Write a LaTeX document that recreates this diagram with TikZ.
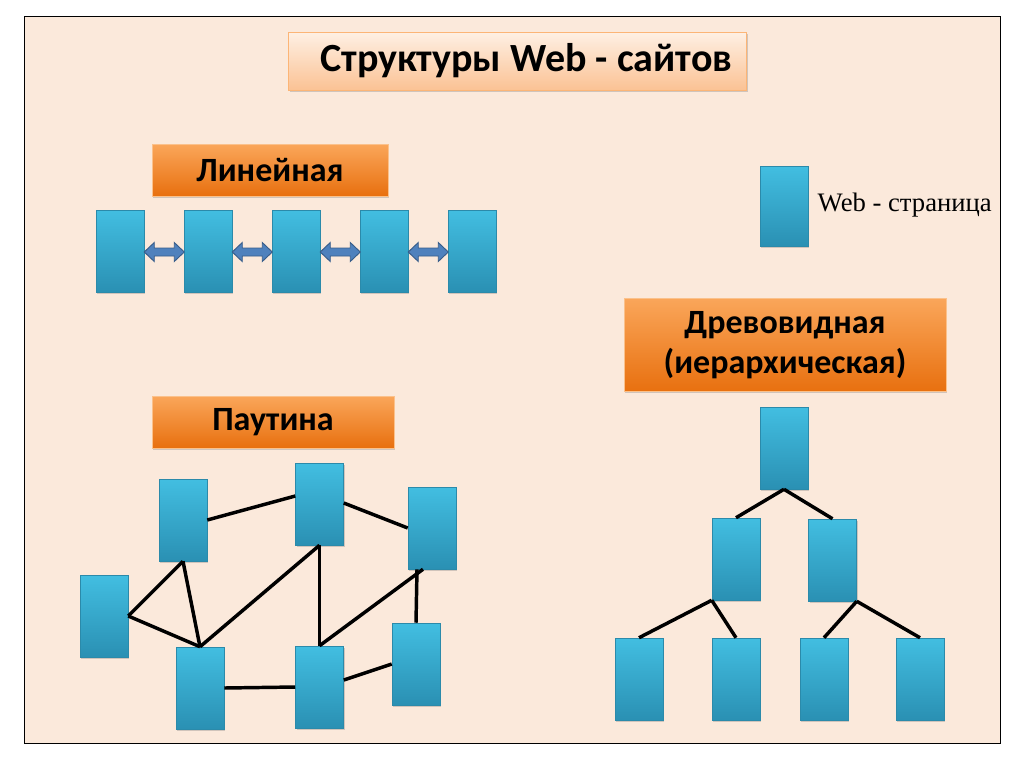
\documentclass[tikz,border=0pt]{standalone}
\usepackage{fontspec}
\setmainfont{Liberation Serif}
\newfontfamily\headfont{Carlito}
\usetikzlibrary{shadows,calc}
\definecolor{pagebg}{HTML}{FBE9DB}
\definecolor{boxtop}{HTML}{42BEE1}
\definecolor{boxbot}{HTML}{2A90B3}
\definecolor{boxline}{HTML}{2B8AAA}
\definecolor{orgtop}{HTML}{FAA65A}
\definecolor{orgbot}{HTML}{E8700F}
\definecolor{ttltop}{HTML}{FEF0E4}
\definecolor{ttlbot}{HTML}{FBC294}
\definecolor{arrfill}{HTML}{4F81BD}
\definecolor{arrline}{HTML}{385D8A}
\tikzset{
  page/.style={rectangle, draw=black, line width=0.9pt, inner sep=0pt},
  pagebox/.style={rectangle, draw=boxline, line width=0.4pt, top color=boxtop, bottom color=boxbot,
    minimum width=36pt, minimum height=61.5pt, inner sep=0pt,
    drop shadow={shadow xshift=1pt, shadow yshift=-1.2pt, opacity=0.35}},
  labelbox/.style={rectangle, draw=orgtop!70!white, line width=0.4pt, top color=orgtop, bottom color=orgbot,
    inner sep=0pt, font=\headfont\bfseries\fontsize{25.5}{30}\selectfont, text=black, align=center,
    drop shadow={shadow xshift=1pt, shadow yshift=-1.2pt, opacity=0.35}},
  titlebox/.style={rectangle, draw=ttlbot!80!orange, line width=0.4pt, top color=ttltop, bottom color=ttlbot,
    inner sep=0pt, font=\headfont\bfseries\fontsize{30}{36}\selectfont, text=black,
    drop shadow={shadow xshift=1.2pt, shadow yshift=-1.5pt, opacity=0.35}},
  link/.style={line width=2.6pt, black},
  dblarrow/.style={draw=arrline, fill=arrfill, line width=0.7pt, line join=miter}
}
\begin{document}
\begin{tikzpicture}[x=0.75pt,y=-0.75pt]
\useasboundingbox (0,0) rectangle (1024,768);
\fill[white] (0,0) rectangle (1024,768);
\node[page, fill=pagebg, minimum width=732pt, minimum height=545.25pt, anchor=north west] (frame) at (24,16) {};

% title
\node[titlebox, minimum width=343.5pt, minimum height=43.5pt] (title) at (517,61) {\hspace{14pt}Структуры Web - сайтов};

% linear
\node[labelbox, minimum width=177pt, minimum height=39pt] (lin) at (270,170) {Линейная};
\foreach \i/\x in {1/120,2/208,3/296,4/384,5/472}
  \node[pagebox] (l\i) at (\x,251) {};
\foreach \a in {1,2,3,4}
  \draw[dblarrow] ($(l\a.east)+(0,1)$) -- ++(10,-9.5) -- ++(0,5.5) -- ++(20,0) -- ++(0,-5.5)
    -- ++(10,9.5) -- ++(-10,9.5) -- ++(0,-5.5) -- ++(-20,0) -- ++(0,5.5) -- cycle;

% legend
\node[pagebox, minimum height=60pt] (leg) at (784,206) {};
\node[anchor=west, font=\fontsize{20}{24}\selectfont] (legtxt) at (813,205) {Web - страница};

% web
\node[labelbox, minimum width=181.5pt, minimum height=39pt] (web) at (273,422) {Паутина};
\node[pagebox] (wa) at (183,520) {};
\node[pagebox] (wb) at (319.5,504) {};
\node[pagebox] (wc) at (432,528) {};
\node[pagebox] (wd) at (104,616) {};
\node[pagebox] (we) at (200,688) {};
\node[pagebox] (wf) at (319.5,687) {};
\node[pagebox] (wg) at (416,664) {};
\draw[link] ($(wa.east)+(0,0)$) -- ($(wb.west)+(0,-8)$);
\draw[link] ($(wb.east)+(0,-1)$) -- ($(wc.west)+(0,0)$);
\draw[link] (wd.east) -- (wa.south);
\draw[link] (wd.east) -- (we.north);
\draw[link] (wa.south) -- (we.north);
\draw[link] (we.north) -- (wb.south);
\draw[link] (wb.south) -- (wf.north);
\draw[link] (wf.north) -- ($(wc.south)+(-9,0)$);
\draw[link] ($(wc.south)+(-15,0)$) -- (wg.north);
\draw[link] (we.east) -- (wf.west);
\draw[link] ($(wf.east)+(0,-7)$) -- (wg.west);

% tree
\node[labelbox, minimum width=241.5pt, minimum height=70pt] (tree) at (785,345) {Древовидная\\(иерархическая)};
\node[pagebox] (t0) at (784,448) {};
\node[pagebox] (t1) at (736,559) {};
\node[pagebox] (t2) at (832.5,560) {};
\node[pagebox] (t3) at (639,679) {};
\node[pagebox] (t4) at (736,679) {};
\node[pagebox] (t5) at (824,679) {};
\node[pagebox] (t6) at (920,679) {};
\draw[link] (t0.south) -- (t1.north);
\draw[link] (t0.south) -- (t2.north);
\draw[link] (t1.south west) -- (t3.north);
\draw[link] (t1.south west) -- (t4.north);
\draw[link] (t2.south east) -- (t5.north);
\draw[link] (t2.south east) -- (t6.north);
\end{tikzpicture}
\end{document}
